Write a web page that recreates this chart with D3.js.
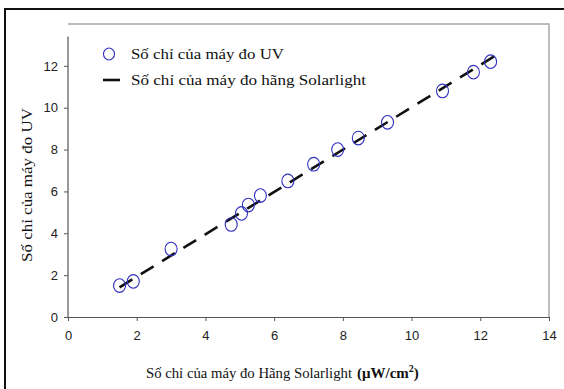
<!DOCTYPE html>
<html lang="vi">
<head>
  <meta charset="UTF-8" />
  <title>Số chỉ của máy đo UV</title>
  <script src="https://d3js.org/d3.v7.min.js"></script>
  <style>
    body {
      margin: 0;
      background: white;
    }
    svg {
      display: block;
    }
    .tick text {
      font-family: "Liberation Sans", Arial, sans-serif;
      font-size: 13px;
      fill: #222;
    }
    .serif {
      font-family: "Liberation Serif", "Times New Roman", serif;
      font-size: 15px;
      fill: #111;
    }
  </style>
</head>
<body>
  <svg width="564" height="389"></svg>

  <script>
    // values
    const xTicks = [0, 2, 4, 6, 8, 10, 12, 14];
    const yTicks = [0, 2, 4, 6, 8, 10, 12];
    const solarX = [1.5, 1.9, 3.0, 4.75, 5.05, 5.25, 5.6, 6.4, 7.15, 7.85, 8.45, 9.3, 10.9, 11.8, 12.3];
    const uvY    = [1.5, 1.7, 3.25, 4.42, 4.95, 5.35, 5.8, 6.5, 7.3, 8.0, 8.55, 9.3, 10.8, 11.7, 12.2];
    // fitted Solarlight line, two end points
    const lineX = [1.5, 12.5];
    const lineY = [1.42, 12.55];

    const legendLabels = ["Số chỉ của máy đo UV", "Số chỉ của máy đo hãng Solarlight"];

    const svg = d3.select("svg");
    const plotL = 68, plotR = 549, plotT = 24, plotB = 317;

    const x = d3.scaleLinear().domain([0, 14]).range([plotL, plotR]);
    const y = d3.scaleLinear().domain([0, 14]).range([plotB, plotT]);

    // outer frame (cropped on the right and bottom)
    svg.append("path")
      .attr("d", `M5,392V9H570`)
      .attr("fill", "none")
      .attr("stroke", "#111")
      .attr("stroke-width", 2);

    // plot area border (top/right light gray)
    svg.append("path")
      .attr("d", `M${plotL},${plotT}H${plotR}V${plotB}`)
      .attr("fill", "none")
      .attr("stroke", "#a8a8a8")
      .attr("stroke-width", 1.5);

    const xAxis = svg.append("g")
      .attr("transform", `translate(0,${plotB})`)
      .call(d3.axisBottom(x).tickValues(xTicks).tickSize(4).tickPadding(10).tickSizeOuter(0));
    const yAxis = svg.append("g")
      .attr("transform", `translate(${plotL},0)`)
      .call(d3.axisLeft(y).tickValues(yTicks).tickSize(4).tickPadding(6).tickSizeOuter(0));

    [xAxis, yAxis].forEach(g => {
      g.select(".domain").attr("stroke", "#555").attr("stroke-width", 1.2);
      g.selectAll(".tick line").attr("stroke", "#555");
    });
    yAxis.select(".domain").attr("d", `M0,${y(13.4)}V${plotB}`);

    // dashed line
    const line = d3.line().x(d => x(d[0])).y(d => y(d[1]));
    svg.append("path")
      .datum(lineX.map((v, i) => [v, lineY[i]]))
      .attr("d", line)
      .attr("fill", "none")
      .attr("stroke", "#111")
      .attr("stroke-width", 2.6)
      .attr("stroke-dasharray", "15,10");

    // hollow markers
    svg.append("g")
      .selectAll("ellipse")
      .data(solarX.map((v, i) => [v, uvY[i]]))
      .join("ellipse")
      .attr("cx", d => x(d[0]))
      .attr("cy", d => y(d[1]))
      .attr("rx", 6)
      .attr("ry", 6.8)
      .attr("fill", "none")
      .attr("stroke", "#3030c0")
      .attr("stroke-width", 1.1);

    // legend
    const legend = svg.append("g");
    legend.append("ellipse")
      .attr("cx", 109).attr("cy", 54).attr("rx", 5.5).attr("ry", 6)
      .attr("fill", "none").attr("stroke", "#3030c0").attr("stroke-width", 1.1);
    legend.append("line")
      .attr("x1", 103).attr("x2", 120).attr("y1", 80).attr("y2", 80)
      .attr("stroke", "#111").attr("stroke-width", 2.6);
    legend.selectAll("text")
      .data(legendLabels)
      .join("text")
      .attr("class", "serif")
      .attr("x", 131)
      .attr("y", (d, i) => 59 + i * 26)
      .attr("textLength", (d, i) => i ? 235 : 153)
      .attr("lengthAdjust", "spacingAndGlyphs")
      .text(d => d);

    // y axis title
    svg.append("text")
      .attr("class", "serif")
      .attr("transform", `translate(32,185) rotate(-90)`)
      .attr("text-anchor", "middle")
      .attr("textLength", 154)
      .attr("lengthAdjust", "spacingAndGlyphs")
      .text("Số chỉ của máy đo UV");

    // x axis title
    svg.append("text")
      .attr("class", "serif")
      .attr("x", 146)
      .attr("y", 378)
      .attr("textLength", 206)
      .attr("lengthAdjust", "spacingAndGlyphs")
      .text("Số chỉ của máy đo Hãng Solarlight");
    const unit = svg.append("text")
      .attr("class", "serif")
      .attr("x", 357)
      .attr("y", 378)
      .style("font-weight", "bold");
    unit.append("tspan").text("(μW/cm");
    unit.append("tspan").style("font-size", "10px").attr("dy", -6).text("2");
    unit.append("tspan").attr("dy", 6).text(")");
  </script>
</body>
</html>
